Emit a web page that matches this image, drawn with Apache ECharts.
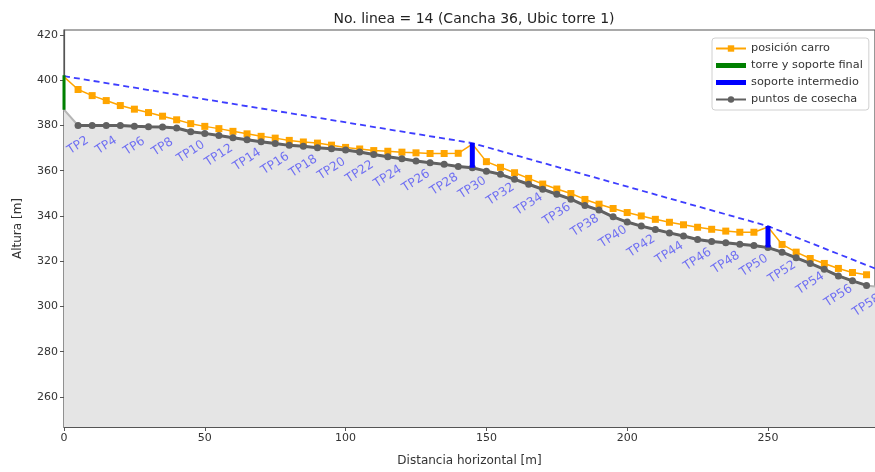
<!DOCTYPE html>
<html><head><meta charset="utf-8">
<script src="https://cdn.jsdelivr.net/npm/echarts@6/dist/echarts.min.js"></script>
<style>html,body{margin:0;padding:0;background:#fff}#c{width:875px;height:472px}</style>
</head><body><div id="c"></div>
<script>
// ---- data ----
const harvestX = [5,10,15,20,25,30,35,40,45,50,55,60,65,70,75,80,85,90,95,100,105,110,115,120,125,130,135,140,145,150,155,160,165,170,175,180,185,190,195,200,205,210,215,220,225,230,235,240,245,250,255,260,265,270,275,280,285];
const harvestY = [380,380,380,380,379.6,379.4,379.3,378.9,377.2,376.5,375.6,374.6,373.7,372.8,372.0,371.2,370.8,370.1,369.7,369.2,368.3,367.2,366.2,365.3,364.3,363.5,362.8,361.9,361.3,359.8,358.4,356.2,354.0,351.8,349.6,347.4,344.6,342.6,339.6,337.3,335.5,334.0,332.5,331.1,329.6,328.7,328.2,327.5,326.9,326.0,324.0,321.5,319.0,316.4,313.5,311.3,309.3];
const harvestNames = harvestX.map((x, i) => 'TP' + (i + 2));
// carriage position at each harvest point
const carroY = [395.9,393.2,391.0,388.8,387.2,385.7,384.1,382.5,380.8,379.6,378.6,377.4,376.3,375.2,374.4,373.4,372.7,372.2,371.3,370.3,369.6,368.9,368.6,368.2,367.9,367.6,367.6,367.7,null,364.0,361.5,359.1,356.6,354.1,351.9,349.9,347.3,345.2,343.3,341.5,340.0,338.5,337.2,336.1,335.0,334.1,333.3,332.8,332.8,null,327.4,324.0,321.2,319.0,316.8,315.0,314.0];
// tower (x=0) and intermediate supports
const towerX = [0], towerBottom = [387.0], towerTop = [402.2];
const supportX = [145, 250], supportBottom = [361.3, 326.0], supportTop = [372.2, 335.5];
// cable (dashed)
const cableX = [0, 145, 250, 290], cableY = [401.8, 372.2, 335.5, 315.8];
// terrain extra points
const terrainStart = [0, 387.0], terrainEnd = [290, 308.4];
const yTicks = [260, 280, 300, 320, 340, 360, 380, 400, 420];
const xTicks = [0, 50, 100, 150, 200, 250];

// ---- build ----
const FONT = 'DejaVu Sans';
const harvestPts = harvestX.map((x, i) => [x, harvestY[i]]);
const terrain = [terrainStart].concat(harvestPts, [terrainEnd]);

const carroPts = [{value: [towerX[0], 401.5], symbol: 'none'}];
harvestX.forEach((x, i) => {
  if (carroY[i] == null) {
    const k = supportX.indexOf(x);
    carroPts.push({value: [x, supportTop[k] - 0.4], symbol: 'none'});
  } else {
    carroPts.push([x, carroY[i]]);
  }
});

const labelPts = [];
harvestX.forEach((x, i) => { if ((i + 2) % 2 === 0) labelPts.push({name: harvestNames[i], value: [x, harvestY[i]]}); });
const rot = 33, dist = 20, rad = rot * Math.PI / 180;

const series = [
  {type: 'line', name: 'terrain', data: terrain, symbol: 'none', z: 1, silent: true,
   lineStyle: {color: '#b5b5b5', width: 2}, areaStyle: {color: '#e5e5e5', opacity: 1, origin: 'start'}},
  {type: 'line', name: 'cable', data: cableX.map((x, i) => [x, cableY[i]]), symbol: 'none', z: 3,
   lineStyle: {color: '#3d3dff', width: 1.8, type: [6, 4]}},
  {type: 'line', name: 'posición carro', data: carroPts, symbol: 'rect', symbolSize: 7, z: 4,
   itemStyle: {color: '#ffa500'}, lineStyle: {color: '#ffa500', width: 1.5}},
  {type: 'line', name: 'puntos de cosecha', data: harvestPts, symbol: 'circle', symbolSize: 7, z: 5,
   itemStyle: {color: '#616161'}, lineStyle: {color: '#616161', width: 3}},
  {type: 'line', name: 'torre y soporte final', data: [[towerX[0], towerBottom[0]], [towerX[0], towerTop[0]]], symbol: 'none', z: 6,
   itemStyle: {color: '#008000'}, lineStyle: {color: '#008000', width: 3}},
];
supportX.forEach((x, k) => series.push({type: 'line', name: 'soporte intermedio', data: [[x, supportBottom[k]], [x, supportTop[k]]],
  symbol: 'none', z: 6, itemStyle: {color: '#0000ff'}, lineStyle: {color: '#0000ff', width: 5}}));
series.push({type: 'scatter', name: 'labels', data: labelPts, symbolSize: 0, z: 7, silent: true,
  label: {show: true, position: 'inside', formatter: '{b}', rotate: rot,
    offset: [-dist * Math.sin(rad), dist * Math.cos(rad)],
    color: 'rgba(0,0,255,0.66)', fontFamily: FONT, fontSize: 12.3}});

const barIcon = 'path://M0,0L30,0L30,5L0,5Z';
const chart = echarts.init(document.getElementById('c'), null, {renderer: 'canvas'});
chart.setOption({
  animation: false,
  backgroundColor: '#fff',
  title: {text: 'No. linea = 14 (Cancha 36, Ubic torre 1)', left: 469, top: 7, textAlign: 'center',
    textStyle: {fontFamily: FONT, fontSize: 14, fontWeight: 'normal', color: '#222'}},
  grid: {left: 64, right: 0, top: 30, bottom: 41, show: true, borderColor: '#555', borderWidth: 1.2, backgroundColor: 'transparent'},
  legend: {orient: 'vertical', left: 712, top: 38, itemWidth: 30, itemHeight: 8, itemGap: 6,
    backgroundColor: '#fff', borderColor: '#d0d0d0', borderWidth: 1, borderRadius: 3, padding: [5, 6, 5, 3],
    textStyle: {fontFamily: FONT, fontSize: 11.3, color: '#333'},
    data: [
      {name: 'posición carro'},
      {name: 'torre y soporte final', icon: barIcon, itemStyle: {color: '#008000'}},
      {name: 'soporte intermedio', icon: barIcon, itemStyle: {color: '#0000ff'}},
      {name: 'puntos de cosecha'}
    ]},
  xAxis: {type: 'value', min: 0, max: 288, interval: 50,
    name: 'Distancia horizontal [m]', nameLocation: 'middle', nameGap: 28,
    nameTextStyle: {fontFamily: FONT, fontSize: 12, color: '#333'},
    axisLine: {lineStyle: {color: '#555', width: 1.2}},
    axisTick: {show: true, length: 4, lineStyle: {color: '#555'}, customValues: xTicks},
    axisLabel: {fontFamily: FONT, fontSize: 11, color: '#333', margin: 6, customValues: xTicks},
    splitLine: {show: false}},
  yAxis: {type: 'value', min: 246.7, max: 422.2,
    name: 'Altura [m]', nameLocation: 'middle', nameGap: 40,
    nameTextStyle: {fontFamily: FONT, fontSize: 12, color: '#333'},
    axisLine: {show: true, lineStyle: {color: '#555', width: 1.2}},
    axisTick: {show: true, length: 4, lineStyle: {color: '#555'}, customValues: yTicks},
    axisLabel: {fontFamily: FONT, fontSize: 11, color: '#333', margin: 6, customValues: yTicks},
    splitLine: {show: false}},
  series: series
});
</script></body></html>
